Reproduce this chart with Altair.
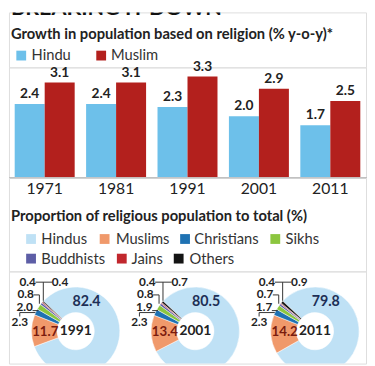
import math
import altair as alt
import pandas as pd

# ---------------- data ----------------
title_text = "BREAKING IT DOWN"
subtitle_text = "Growth in population based on religion (% y-o-y)*"
section_text = "Proportion of religious population to total (%)"

years = ["1971", "1981", "1991", "2001", "2011"]
bar_series = ["Hindu", "Muslim"]
hindu_growth = [2.4, 2.4, 2.3, 2.0, 1.7]
muslim_growth = [3.1, 3.1, 3.3, 2.9, 2.5]
bar_colors = ["#6dc0ea", "#b3201d"]

donut_years = [1991, 2001, 2011]
religions = ["Hindus", "Muslims", "Christians", "Sikhs", "Buddhists", "Jains", "Others"]
share_1991 = [82.4, 11.7, 2.3, 2.0, 0.8, 0.4, 0.4]
share_2001 = [80.5, 13.4, 2.3, 1.9, 0.8, 0.4, 0.7]
share_2011 = [79.8, 14.2, 2.3, 1.7, 0.7, 0.4, 0.9]
religion_colors = ["#bfe1f5", "#f0996b", "#1f72b3", "#8cc63f", "#5d5ea6", "#c1272d", "#141414"]

# ---------------- layout (pixels) ----------------
W = 364
FONT = "Lato"
legend1_sq_x = [12.5, 94]
legend1_tx_x = [23, 104]
legend2_sq_x = [22.5, 97.5, 179.5, 271.5, 22.5, 115, 173]
legend2_tx_x = [33, 109, 189, 282, 33, 125, 184]
legend2_y = [63, 63, 63, 63, 83, 83, 83]
donut_cx = [68, 312]
donut_centres = [68, 190, 312]
donut_cy = 61
start_angle = 313 / 180 * math.pi
small_label_pos = {  # religion: (dx, dy) from donut centre
    "Christians": (-57, -9),
    "Sikhs": (-52, -25),
    "Buddhists": (-51, -37.5),
    "Jains": (-49, -50),
    "Others": (-16, -50),
}
leader_segments = [  # (x1, y1, x2, y2) relative to donut centre
    (-41, -50, -24, -50),
    (-33, -50, -33, -31),
    (-43, -37, -37, -37),
    (-37, -37, -37, -28),
    (-44, -21, -38, -21),
    (-57, -15, -57, -19),
    (-57, -19, -41, -19),
]

# ---------------- header 1 ----------------
one = pd.DataFrame({"t": [title_text], "s": [subtitle_text]})
title_layer = alt.Chart(one).mark_text(
    align="left", baseline="alphabetic", fontSize=22, fontWeight="bold",
    font=FONT, color="#111", clip=True
).encode(x=alt.value(2), y=alt.value(3), text="t:N")
sub_layer = alt.Chart(one).mark_text(
    align="left", baseline="middle", fontSize=15, fontWeight="bold", font=FONT, color="#222"
).encode(x=alt.value(2), y=alt.value(22), text="s:N")
leg1 = pd.DataFrame({"series": bar_series, "sx": legend1_sq_x, "tx": legend1_tx_x})
leg1_sq = alt.Chart(leg1).mark_square(size=100, opacity=1).encode(
    x=alt.X("sx:Q", scale=None), y=alt.value(44),
    color=alt.Color("series:N", scale=alt.Scale(domain=bar_series, range=bar_colors), legend=None),
)
leg1_tx = alt.Chart(leg1).mark_text(
    align="left", baseline="middle", fontSize=15, font=FONT, color="#333"
).encode(x=alt.X("tx:Q", scale=None), y=alt.value(44), text="series:N")
header1 = alt.layer(title_layer, sub_layer, leg1_sq, leg1_tx).properties(width=W, height=56)

# ---------------- bars ----------------
bars_df = pd.DataFrame({
    "year": years * 2,
    "series": ["Hindu"] * len(years) + ["Muslim"] * len(years),
    "value": hindu_growth + muslim_growth,
})
bbase = alt.Chart(bars_df).encode(
    x=alt.X("year:N", sort=years,
            scale=alt.Scale(paddingInner=0.16, paddingOuter=0.08),
            axis=alt.Axis(title=None, labelAngle=0, ticks=False, domainColor="#555",
                          domainWidth=1.3, labelFontSize=16, labelColor="#222",
                          labelPadding=4, labelFont=FONT)),
    xOffset=alt.XOffset("series:N", sort=bar_series),
    y=alt.Y("value:Q", scale=alt.Scale(domain=[0, 3.6]), axis=None),
)
bar_layer = bbase.mark_bar().encode(
    color=alt.Color("series:N", scale=alt.Scale(domain=bar_series, range=bar_colors), legend=None)
)
bar_text = bbase.mark_text(
    baseline="bottom", dy=-3, fontSize=14, fontWeight="bold", font=FONT, color="#222"
).encode(text=alt.Text("value:Q", format=".1f"))
bars = alt.layer(bar_layer, bar_text).properties(width=W, height=112)

# ---------------- header 2 ----------------
sec = alt.Chart(pd.DataFrame({"s": [section_text]})).mark_text(
    align="left", baseline="middle", fontSize=15, fontWeight="bold", font=FONT, color="#222"
).encode(x=alt.value(2), y=alt.value(40), text="s:N")
leg2 = pd.DataFrame({"religion": religions, "sx": legend2_sq_x, "tx": legend2_tx_x, "ly": legend2_y})
leg2_sq = alt.Chart(leg2).mark_square(size=100, opacity=1).encode(
    x=alt.X("sx:Q", scale=None), y=alt.Y("ly:Q", scale=None),
    color=alt.Color("religion:N", scale=alt.Scale(domain=religions, range=religion_colors), legend=None),
)
leg2_tx = alt.Chart(leg2).mark_text(
    align="left", baseline="middle", fontSize=15, font=FONT, color="#333"
).encode(x=alt.X("tx:Q", scale=None), y=alt.Y("ly:Q", scale=None), text="religion:N")
header2 = alt.layer(sec, leg2_sq, leg2_tx).properties(width=W, height=96)

# ---------------- donuts ----------------
rows = []
for yr, shares in zip(donut_years, [share_1991, share_2001, share_2011]):
    for i, (r, v) in enumerate(zip(religions, shares)):
        rows.append({"year": yr, "religion": r, "value": v, "order": i})
donut_df = pd.DataFrame(rows)
cx = alt.X("year:Q", scale=alt.Scale(domain=[donut_years[0], donut_years[-1]], range=donut_cx), axis=None)
dbase = alt.Chart(donut_df)

layers = []
for yr, px in zip(donut_years, donut_centres):
    layers.append(
        dbase.transform_filter(alt.datum.year == yr).mark_arc(
            innerRadius=19, outerRadius=45, clip=True, stroke="white", strokeWidth=0.5
        ).encode(
            x=alt.value(px), y=alt.value(donut_cy),
            theta=alt.Theta("value:Q", stack=True,
                            scale=alt.Scale(domain=[0, 100], range=[start_angle, start_angle + 2 * math.pi])),
            order=alt.Order("order:Q", sort="ascending"),
            color=alt.Color("religion:N", scale=alt.Scale(domain=religions, range=religion_colors), legend=None),
        )
    )
layers.append(
    dbase.transform_filter(alt.datum.religion == "Hindus").mark_text(
        fontSize=14, fontWeight="bold", font=FONT, color="#222", baseline="middle"
    ).encode(x=cx, y=alt.value(donut_cy), text=alt.Text("year:N"))
)
layers.append(
    dbase.transform_filter(alt.datum.religion == "Hindus").mark_text(
        fontSize=14.5, fontWeight="bold", font=FONT, color="#1d2f55", baseline="middle", dx=11, dy=-30
    ).encode(x=cx, y=alt.value(donut_cy), text=alt.Text("value:Q", format=".1f"))
)
layers.append(
    dbase.transform_filter(alt.datum.religion == "Muslims").mark_text(
        fontSize=13.5, fontWeight="bold", font=FONT, color="#7a1c0e", baseline="middle", dx=-31, dy=1
    ).encode(x=cx, y=alt.value(donut_cy), text=alt.Text("value:Q", format=".1f"))
)
for rel, (dx, dy) in small_label_pos.items():
    layers.append(
        dbase.transform_filter(alt.datum.religion == rel).mark_text(
            fontSize=12, fontWeight="bold", font=FONT, color="#222", baseline="middle", dx=dx, dy=dy
        ).encode(x=cx, y=alt.value(donut_cy), text=alt.Text("value:Q", format=".1f"))
    )
for (x1, y1, x2, y2) in leader_segments:
    layers.append(
        dbase.transform_filter(alt.datum.religion == "Hindus").mark_rule(
            color="#333", strokeWidth=1, xOffset=x1, x2Offset=x2, yOffset=y1, y2Offset=y2
        ).encode(x=cx, x2=alt.X2("year"), y=alt.value(donut_cy), y2=alt.value(donut_cy))
    )
donuts = alt.layer(*layers).properties(width=W, height=94)

chart = alt.vconcat(header1, bars, header2, donuts, spacing=0, bounds="flush").resolve_scale(
    color="independent", x="independent", y="independent"
).properties(padding=0).configure_view(stroke=None).configure(background="white")

chart.save("out.html", embed_options={"renderer": "svg", "actions": False})
